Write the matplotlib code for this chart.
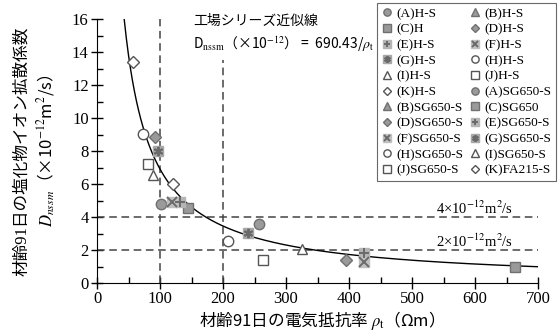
import numpy as np
import matplotlib.pyplot as plt

plt.rcParams['font.family'] = ['Liberation Serif', 'Noto Sans CJK JP']
plt.rcParams['mathtext.fontset'] = 'stix'
cjk = 'Noto Sans CJK JP'

# 凡例ラベル（行ごとに並べた順）
labels = ['(A)H-S', '(B)H-S', '(C)H', '(D)H-S', '(E)H-S', '(F)H-S',
          '(G)H-S', '(H)H-S', '(I)H-S', '(J)H-S', '(K)H-S', '(A)SG650-S',
          '(B)SG650-S', '(C)SG650', '(D)SG650-S', '(E)SG650-S', '(F)SG650-S',
          '(G)SG650-S', '(H)SG650-S', '(I)SG650-S', '(J)SG650-S', '(K)FA215-S']
groups = ['A', 'B', 'C', 'D', 'E', 'F', 'G', 'H', 'I', 'J', 'K', 'A',
          'B', 'C', 'D', 'E', 'F', 'G', 'H', 'I', 'J', 'K']

# 電気抵抗率 ρt (Ωm) と拡散係数 Dnssm (×10^-12 m2/s)
rho = [[101.6], [], [144.9], [92], [131.7], [119.5], [97.3], [73.5], [89.4], [81.4], [56.7],
       [257.6], [], [663], [396], [424], [424], [240], [208], [325], [264], [121]]
dnssm = [[4.8], [], [4.57], [8.85], [4.9], [4.92], [8.03], [9.03], [6.56], [7.22], [13.37],
         [3.56], [], [0.99], [1.40], [1.84], [1.29], [3.02], [2.55], [2.06], [1.40], [6.01]]

coef = 690.43  # 近似式 D = 690.43/ρt
ref_levels = [4, 2]
ref_rho = [100, 200]

grey = '#9a9a9a'
edge = '#707070'
openedge = '#555555'
styles = {
    'A': dict(marker='o', mfc=grey, mec=edge),
    'B': dict(marker='^', mfc=grey, mec=edge),
    'C': dict(marker='s', mfc=grey, mec=edge),
    'D': dict(marker='D', mfc=grey, mec=edge, ms_scale=0.8),
    'E': dict(marker='s', mfc='#b5b5b5', mec='#b5b5b5', over='+'),
    'F': dict(marker='s', mfc='#c0c0c0', mec='#c0c0c0', over='x'),
    'G': dict(marker='s', mfc='#a8a8a8', mec='#a8a8a8', over=(6, 2, 0)),
    'H': dict(marker='o', mfc='white', mec=openedge),
    'I': dict(marker='^', mfc='white', mec=openedge),
    'J': dict(marker='s', mfc='white', mec=openedge),
    'K': dict(marker='D', mfc='white', mec=openedge, ms_scale=0.8),
}

fig = plt.figure(figsize=(5.59, 3.36), dpi=100)
ax = fig.add_axes([97 / 559, 53 / 336, 441 / 559, 264 / 336])

ms = 7.5
handles = []
for lab, g, xs, ys in zip(labels, groups, rho, dnssm):
    st = styles[g]
    size = ms * st.get('ms_scale', 1.0)
    h1, = ax.plot(xs, ys, ls='none', marker=st['marker'], ms=size,
                  mfc=st['mfc'], mec=st['mec'], mew=1.0, zorder=4)
    if 'over' in st:
        h2, = ax.plot(xs, ys, ls='none', marker=st['over'], ms=size * 0.9,
                      mec='#6a6a6a', mew=1.4, zorder=5)
        handles.append(((h1, h2), lab))
    else:
        handles.append((h1, lab))

# 近似曲線
r = np.linspace(coef / 16, 700, 400)
ax.plot(r, coef / r, color='black', lw=1.0, zorder=3)

# 破線
dash = dict(color='#444444', lw=1.1, dashes=(5, 3), zorder=2)
for lv in ref_levels:
    ax.plot([0, 700], [lv, lv], **dash)
ax.plot([ref_rho[0], ref_rho[0]], [0, 16], **dash)
ax.plot([ref_rho[1], ref_rho[1]], [0, 13.5], **dash)

ax.text(152, 15.85, '工場シリーズ近似線', fontsize=10, va='center', ha='left')
ax.text(153, 14.45, r'D$_{\mathrm{nssm}}$（×10$^{-12}$） =  690.43/$\rho_{\mathrm{t}}$',
        fontsize=10, va='center', ha='left', family=cjk)
ax.text(599, 4.55, r'4×10$^{-12}$m$^{2}$/s', fontsize=10.5, ha='center', va='center')
ax.text(599, 2.55, r'2×10$^{-12}$m$^{2}$/s', fontsize=10.5, ha='center', va='center')

ax.set_xlim(0, 700)
ax.set_ylim(0, 16)
ax.set_xticks(np.arange(0, 701, 100))
ax.set_xticks(np.arange(0, 701, 50), minor=True)
ax.set_yticks(np.arange(0, 17, 2))
ax.set_yticks(np.arange(0, 17, 1), minor=True)
ax.tick_params(which='major', direction='inout', length=8, width=1.0, labelsize=12, pad=2)
ax.tick_params(which='minor', direction='in', length=4, width=1.0)
for s in ['top', 'right']:
    ax.spines[s].set_visible(False)
ax.patch.set_alpha(0)

ax.set_xlabel(r'材齢91日の電気抵抗率 $\rho_{\mathrm{t}}$（Ωm）', fontsize=12,
              labelpad=1, family=cjk)
fig.text(22 / 559, 1 - 151 / 336, '材齢91日の塩化物イオン拡散係数', rotation=90,
         fontsize=12, ha='center', va='center')
fig.text(46 / 559, 1 - 151 / 336, r'$D_{nssm}$（×10$^{-12}$m$^{2}$/s）', rotation=90,
         fontsize=12, ha='center', va='center', family=cjk)

# 凡例：行ごとの並びにするため列順に組み替える
order = list(range(0, 22, 2)) + list(range(1, 22, 2))
leg = fig.legend([handles[i][0] for i in order], [handles[i][1] for i in order],
                 loc='upper left', bbox_to_anchor=(377 / 559, 1 - 3 / 336),
                 ncol=2, fontsize=9.5, markerscale=0.7, handlelength=0.8,
                 handletextpad=0.3, columnspacing=0.5, labelspacing=0.26,
                 borderpad=0.35, borderaxespad=0, frameon=True, fancybox=False,
                 edgecolor='#444444')
leg.get_frame().set_linewidth(0.8)

fig.savefig('out.png', dpi=100)
